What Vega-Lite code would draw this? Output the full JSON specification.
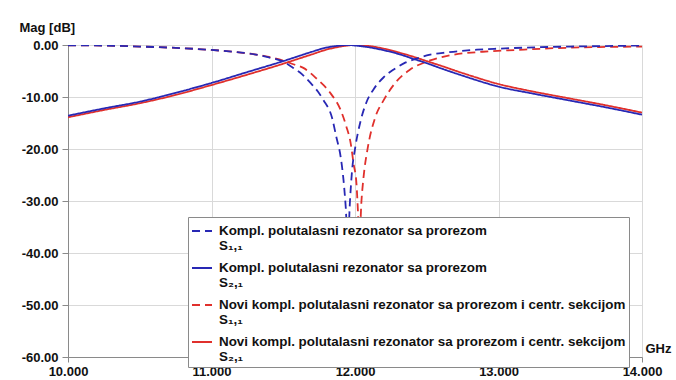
{
  "$schema": "https://vega.github.io/schema/vega-lite/v6.json",
  "width": 574,
  "height": 312,
  "autosize": {"type": "none"},
  "padding": {"left": 68, "top": 45, "right": 34, "bottom": 23},
  "background": "white",
  "config": {
    "view": {"stroke": null},
    "font": "Liberation Sans",
    "axis": {
      "labelFont": "Liberation Sans", "labelFontWeight": "bold", "labelFontSize": 13, "labelColor": "#111",
      "titleFont": "Liberation Sans", "titleFontWeight": "bold", "titleFontSize": 13, "titleColor": "#111",
      "gridColor": "#d9d9d9", "gridWidth": 1, "domainColor": "#8a8a8a", "tickColor": "#8a8a8a"
    }
  },
  "datasets": {
    "names": [
      {"k": "A", "name": "Kompl. polutalasni rezonator sa prorezom S₁,₁"},
      {"k": "B", "name": "Kompl. polutalasni rezonator sa prorezom S₂,₁"},
      {"k": "C", "name": "Novi kompl. polutalasni rezonator sa prorezom i centr. sekcijom S₁,₁"},
      {"k": "D", "name": "Novi kompl. polutalasni rezonator sa prorezom i centr. sekcijom S₂,₁"}
    ]
  },
  "data": {"values": [
    {"k":"C","f":10.0,"db":-0.05},{"k":"C","f":10.25,"db":-0.1},{"k":"C","f":10.5,"db":-0.3},{"k":"C","f":10.75,"db":-0.55},
    {"k":"C","f":11.0,"db":-0.95},{"k":"C","f":11.15,"db":-1.3},{"k":"C","f":11.3,"db":-1.8},{"k":"C","f":11.4,"db":-2.3},
    {"k":"C","f":11.5,"db":-3.0},{"k":"C","f":11.57,"db":-3.7},{"k":"C","f":11.64,"db":-4.4},{"k":"C","f":11.73,"db":-6.4},
    {"k":"C","f":11.83,"db":-9.3},{"k":"C","f":11.9,"db":-12.5},{"k":"C","f":11.94,"db":-15.7},{"k":"C","f":11.97,"db":-18.9},
    {"k":"C","f":11.99,"db":-22.8},{"k":"C","f":12.01,"db":-26.6},{"k":"C","f":12.02,"db":-31.7},{"k":"C","f":12.03,"db":-38},
    {"k":"C","f":12.045,"db":-30},{"k":"C","f":12.06,"db":-25.3},{"k":"C","f":12.09,"db":-19.6},{"k":"C","f":12.14,"db":-14},
    {"k":"C","f":12.2,"db":-10.6},{"k":"C","f":12.28,"db":-7.3},{"k":"C","f":12.38,"db":-4.8},{"k":"C","f":12.5,"db":-3.2},
    {"k":"C","f":12.66,"db":-2.0},{"k":"C","f":12.89,"db":-1.3},{"k":"C","f":13.13,"db":-0.95},{"k":"C","f":13.4,"db":-0.6},
    {"k":"C","f":13.7,"db":-0.4},{"k":"C","f":14.0,"db":-0.3},

    {"k":"D","f":10.0,"db":-13.9},{"k":"D","f":10.25,"db":-12.5},{"k":"D","f":10.5,"db":-11.2},{"k":"D","f":10.75,"db":-9.6},
    {"k":"D","f":11.0,"db":-7.7},{"k":"D","f":11.25,"db":-5.7},{"k":"D","f":11.5,"db":-3.6},{"k":"D","f":11.6,"db":-2.7},
    {"k":"D","f":11.7,"db":-1.8},{"k":"D","f":11.8,"db":-0.9},{"k":"D","f":11.9,"db":-0.3},{"k":"D","f":12.0,"db":0},
    {"k":"D","f":12.1,"db":-0.2},{"k":"D","f":12.2,"db":-0.7},{"k":"D","f":12.3,"db":-1.4},{"k":"D","f":12.4,"db":-2.2},
    {"k":"D","f":12.5,"db":-3.1},{"k":"D","f":12.6,"db":-4.0},{"k":"D","f":12.75,"db":-5.4},{"k":"D","f":13.0,"db":-7.5},
    {"k":"D","f":13.25,"db":-9.0},{"k":"D","f":13.5,"db":-10.3},{"k":"D","f":13.75,"db":-11.6},{"k":"D","f":14.0,"db":-13.0},

    {"k":"A","f":10.0,"db":-0.05},{"k":"A","f":10.25,"db":-0.1},{"k":"A","f":10.5,"db":-0.3},{"k":"A","f":10.75,"db":-0.55},
    {"k":"A","f":11.0,"db":-0.95},{"k":"A","f":11.15,"db":-1.3},{"k":"A","f":11.3,"db":-1.8},{"k":"A","f":11.4,"db":-2.4},
    {"k":"A","f":11.5,"db":-3.2},{"k":"A","f":11.57,"db":-4.4},{"k":"A","f":11.63,"db":-5.6},{"k":"A","f":11.69,"db":-7.3},
    {"k":"A","f":11.74,"db":-8.9},{"k":"A","f":11.78,"db":-10.6},{"k":"A","f":11.84,"db":-14},{"k":"A","f":11.87,"db":-17.7},
    {"k":"A","f":11.9,"db":-21.5},{"k":"A","f":11.92,"db":-26},{"k":"A","f":11.935,"db":-31},{"k":"A","f":11.95,"db":-38},
    {"k":"A","f":11.965,"db":-30},{"k":"A","f":11.98,"db":-24},{"k":"A","f":12.0,"db":-20},{"k":"A","f":12.04,"db":-14.5},
    {"k":"A","f":12.08,"db":-11},{"k":"A","f":12.13,"db":-8.5},{"k":"A","f":12.2,"db":-6.2},{"k":"A","f":12.27,"db":-4.7},
    {"k":"A","f":12.35,"db":-3.4},{"k":"A","f":12.43,"db":-2.6},{"k":"A","f":12.5,"db":-2.0},{"k":"A","f":12.65,"db":-1.4},
    {"k":"A","f":12.85,"db":-0.9},{"k":"A","f":13.0,"db":-0.7},{"k":"A","f":13.25,"db":-0.45},{"k":"A","f":13.5,"db":-0.3},
    {"k":"A","f":13.75,"db":-0.2},{"k":"A","f":14.0,"db":-0.1},

    {"k":"B","f":10.0,"db":-13.6},{"k":"B","f":10.25,"db":-12.2},{"k":"B","f":10.5,"db":-10.9},{"k":"B","f":10.75,"db":-9.2},
    {"k":"B","f":11.0,"db":-7.3},{"k":"B","f":11.25,"db":-5.2},{"k":"B","f":11.5,"db":-3.1},{"k":"B","f":11.6,"db":-2.2},
    {"k":"B","f":11.7,"db":-1.3},{"k":"B","f":11.8,"db":-0.5},{"k":"B","f":11.9,"db":-0.1},{"k":"B","f":11.95,"db":0},
    {"k":"B","f":12.0,"db":-0.1},{"k":"B","f":12.1,"db":-0.45},{"k":"B","f":12.2,"db":-1.0},{"k":"B","f":12.3,"db":-1.7},
    {"k":"B","f":12.4,"db":-2.6},{"k":"B","f":12.5,"db":-3.5},{"k":"B","f":12.6,"db":-4.5},{"k":"B","f":12.75,"db":-5.9},
    {"k":"B","f":13.0,"db":-8.0},{"k":"B","f":13.25,"db":-9.4},{"k":"B","f":13.5,"db":-10.7},{"k":"B","f":13.75,"db":-12.0},
    {"k":"B","f":14.0,"db":-13.4}
  ]},
  "transform": [
    {"lookup": "k", "from": {"data": {"name": "names"}, "key": "k", "fields": ["name"]}}
  ],
  "mark": {"type": "line", "strokeWidth": 1.8, "clip": true, "interpolate": "monotone"},
  "encoding": {
    "x": {
      "field": "f", "type": "quantitative",
      "scale": {"domain": [10, 14], "nice": false, "zero": false},
      "axis": {"values": [10, 11, 12, 13, 14], "format": ".3f", "tickSize": 5, "labelPadding": 3,
               "title": "GHz", "titleAngle": 0, "titleX": 590, "titleY": -9, "titleAlign": "center", "titleBaseline": "middle",
               "labelFlush": false}
    },
    "y": {
      "field": "db", "type": "quantitative",
      "scale": {"domain": [-60, 0], "nice": false},
      "axis": {"values": [-60, -50, -40, -30, -20, -10, 0], "labelExpr": "replace(format(datum.value, '.2f'), '\u2212', '-')",
               "tickSize": 6, "labelPadding": 4,
               "title": "Mag [dB]", "titleAngle": 0, "titleX": -49, "titleY": -18, "titleAlign": "left", "titleBaseline": "middle"}
    },
    "color": {
      "field": "name", "type": "nominal",
      "scale": {"domain": [
        "Kompl. polutalasni rezonator sa prorezom S₁,₁",
        "Kompl. polutalasni rezonator sa prorezom S₂,₁",
        "Novi kompl. polutalasni rezonator sa prorezom i centr. sekcijom S₁,₁",
        "Novi kompl. polutalasni rezonator sa prorezom i centr. sekcijom S₂,₁"],
        "range": ["#2828b4", "#2828b4", "#e0302c", "#e0302c"]},
      "legend": {"orient": "none", "legendX": 120, "legendY": 172, "title": null,
        "strokeColor": "#8a8a8a", "fillColor": "white", "padding": 3,
        "symbolType": "stroke", "symbolSize": 400, "symbolStrokeWidth": 2,
        "labelFont": "Liberation Sans", "labelFontWeight": "bold", "labelFontSize": 13.4, "labelColor": "#111",
        "labelLimit": 0, "labelOffset": 6, "rowPadding": 4,
        "labelExpr": "[substring(datum.label, 0, lastindexof(datum.label, ' ')), substring(datum.label, lastindexof(datum.label, ' ') + 1)]"}
    },
    "strokeDash": {
      "field": "name", "type": "nominal",
      "scale": {"domain": [
        "Kompl. polutalasni rezonator sa prorezom S₁,₁",
        "Kompl. polutalasni rezonator sa prorezom S₂,₁",
        "Novi kompl. polutalasni rezonator sa prorezom i centr. sekcijom S₁,₁",
        "Novi kompl. polutalasni rezonator sa prorezom i centr. sekcijom S₂,₁"],
        "range": [[8, 5], [1, 0], [8, 5], [1, 0]]},
      "legend": {"orient": "none", "legendX": 120, "legendY": 172, "title": null,
        "strokeColor": "#8a8a8a", "fillColor": "white", "padding": 3,
        "symbolType": "stroke", "symbolSize": 400, "symbolStrokeWidth": 2,
        "labelFont": "Liberation Sans", "labelFontWeight": "bold", "labelFontSize": 13.4, "labelColor": "#111",
        "labelLimit": 0, "labelOffset": 6, "rowPadding": 4,
        "labelExpr": "[substring(datum.label, 0, lastindexof(datum.label, ' ')), substring(datum.label, lastindexof(datum.label, ' ') + 1)]"}
    }
  }
}
